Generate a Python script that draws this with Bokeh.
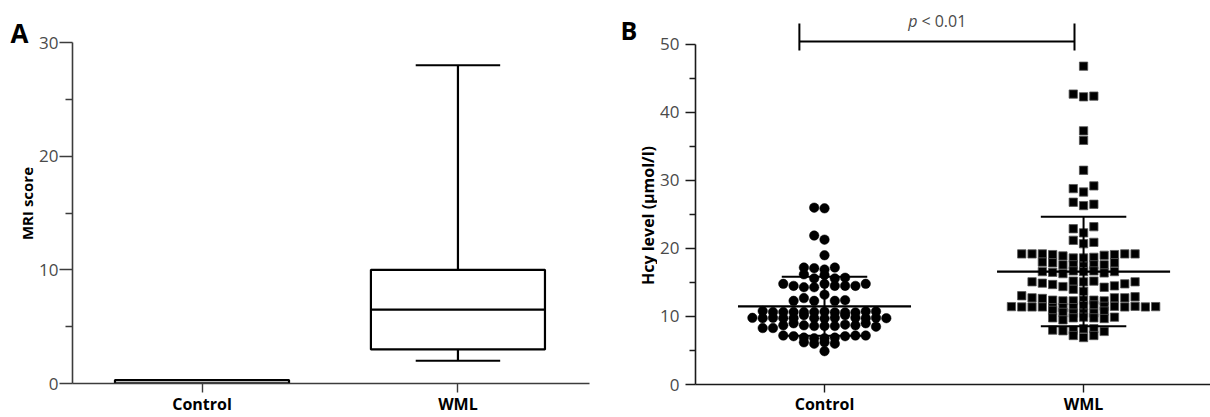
import numpy as np
from bokeh.plotting import figure
from bokeh.models import FixedTicker, Label, Range1d
from bokeh.layouts import row
from bokeh.embed import file_html
from bokeh.resources import INLINE

# ---------------- data ----------------
# Panel A: MRI score box plot (min, q1, median, q3, max)
groups = ["Control", "WML"]
mri_min = [0.0, 2.0]
mri_q1 = [0.0, 3.0]
mri_median = [0.0, 6.5]
mri_q3 = [0.3, 10.0]
mri_max = [0.0, 28.0]
mri_ticks = [0, 10, 20, 30]

# Panel B: Hcy level (umol/l) individual values
control_hcy = [
    25.9, 26.0,
    21.3, 21.9,
    19.0,
    16.9, 17.1, 17.2, 17.2,
    16.1, 15.6, 15.6, 16.2, 15.7,
    14.8, 14.3, 14.5, 14.3, 14.5, 14.5, 14.5, 14.8, 14.8,
    13.2, 12.3, 12.3, 12.7, 12.4, 12.3,
    10.7, 10.65, 10.6, 10.65, 10.6, 10.65, 10.6, 10.65, 10.75, 10.65, 10.75, 10.8,
    9.7, 9.75, 9.8, 10.2, 10.2, 9.75, 9.8, 9.75, 9.75, 9.8, 9.8, 9.75, 9.75, 9.8,
    8.6, 8.6, 8.6, 8.7, 8.8, 9.0, 8.7, 8.7, 9.0, 8.3, 8.5, 8.3,
    6.8, 6.8, 6.9, 6.9, 7.1, 7.1, 7.2, 7.2, 7.2,
    6.2, 6.0, 6.0, 6.2,
    4.9,
]
wml_hcy = [
    46.8,
    42.3, 42.7, 42.4,
    37.3,
    35.9,
    31.5,
    28.3, 28.8, 29.2,
    26.3, 26.8, 26.5,
    22.3, 22.9, 23.2,
    20.7, 21.2, 20.9,
    18.6, 18.6, 18.7, 18.9, 19.0, 19.1, 19.1, 19.2, 19.2, 19.2, 19.2, 19.2,
    17.4, 17.6, 17.6, 17.6, 17.6, 17.9, 17.9, 18.0,
    16.6, 16.7, 16.7, 16.3, 16.4, 16.5, 16.6, 16.6,
    15.1, 15.2, 15.2, 14.4, 14.3, 14.7, 14.5, 14.9, 14.8, 15.1, 15.1,
    13.7, 14.0,
    12.4, 12.3, 12.4, 12.3, 12.3, 12.4, 12.75, 12.65, 12.75, 12.75, 12.9, 13.05,
    11.6, 11.3, 11.7, 11.3, 11.5, 11.3, 11.5, 11.4, 11.4, 11.4, 11.5, 11.4, 11.4, 11.45, 11.45,
    10.5, 10.5, 10.5, 10.6, 10.8, 10.9,
    9.9, 9.8, 9.8, 9.5, 9.7, 9.8, 9.9,
    8.2, 8.0, 8.2, 7.9, 7.8, 8.0,
    6.9, 7.2, 7.2,
]
hcy_mean = [11.5, 16.6]
hcy_sd = [4.35, 8.05]
hcy_ticks = [0, 10, 20, 30, 40, 50]
p_label = "< 0.01"

# ---------------- helpers ----------------
FONT = "Open Sans"
TICK_COLOR = "#4a4a4a"
H = 417


def swarm(values, center, step, bin_h=1.0, edge=0.25):
    seq = [0]
    for k in range(1, 60):
        seq += [-k, k]
    counts = {}
    xs = []
    for v in values:
        b = int(np.floor((v - edge) / bin_h))
        i = counts.get(b, 0)
        counts[b] = i + 1
        xs.append(center + seq[i] * step)
    return xs


def text_strip(width):
    f = figure(width=width, height=H, output_backend="svg", toolbar_location=None,
               title=None, x_axis_type=None, y_axis_type=None,
               x_range=Range1d(0, width), y_range=Range1d(0, H),
               min_border_left=0, min_border_right=0, min_border_top=0, min_border_bottom=0)
    f.frame_align = False
    f.grid.visible = False
    f.outline_line_color = None
    f.background_fill_color = "white"
    f.border_fill_color = "white"
    return f


def style_axes(p, axis_color):
    p.frame_align = False
    p.grid.visible = False
    p.outline_line_color = None
    p.background_fill_color = "white"
    p.border_fill_color = "white"
    for ax in (p.xaxis[0], p.yaxis[0]):
        ax.major_label_text_font = FONT
        ax.major_tick_in = 0
        ax.minor_tick_in = 0
        ax.axis_line_color = axis_color
        ax.axis_line_width = 1.6
        ax.major_tick_line_color = axis_color
        ax.major_tick_line_width = 1.4
        ax.minor_tick_line_color = axis_color
        ax.minor_tick_line_width = 1.4
    p.yaxis.major_label_text_font_size = "17px"
    p.yaxis.major_label_text_color = TICK_COLOR
    p.xaxis.major_label_text_font_size = "16px"
    p.xaxis.major_label_text_font_style = "bold"
    p.xaxis.major_label_text_color = "black"


# ---------------- strip with "A" and y label ----------------
fa = text_strip(36)
fa.add_layout(Label(x=10, y=H - 32, text="A", text_font=FONT, text_font_size="26px",
                    text_font_style="bold", text_color="black", text_align="left",
                    text_baseline="alphabetic"))
fa.add_layout(Label(x=26, y=H - 203, text="MRI score", angle=np.pi / 2, text_font=FONT,
                    text_font_size="15px", text_font_style="bold", text_color="black",
                    text_align="center", text_baseline="middle"))

# ---------------- panel A ----------------
xa = list(range(len(groups)))
pA = figure(width=564, height=H, output_backend="svg", toolbar_location=None, title=None,
            x_range=Range1d(-0.506, 1.514), y_range=Range1d(0, 30),
            min_border_left=34, min_border_right=11, min_border_top=42, min_border_bottom=34)
style_axes(pA, "#3c3c3c")
pA.xaxis.ticker = FixedTicker(ticks=xa)
pA.xaxis.major_label_overrides = {i: g for i, g in enumerate(groups)}
pA.yaxis.ticker = FixedTicker(ticks=mri_ticks, minor_ticks=[5, 15, 25])
pA.yaxis.major_tick_out = 13
pA.yaxis.minor_tick_out = 7
pA.yaxis.major_label_standoff = 1
pA.xaxis.major_tick_out = 9
pA.xaxis.major_label_standoff = 0

box_w = 0.68
cap_w = 0.33
lw = 2.2
pA.segment(x0=xa, x1=xa, y0=mri_q3, y1=mri_max, line_color="black", line_width=lw)
pA.segment(x0=xa, x1=xa, y0=mri_q1, y1=mri_min, line_color="black", line_width=lw)
pA.segment(x0=[x - cap_w / 2 for x in xa], x1=[x + cap_w / 2 for x in xa],
           y0=mri_max, y1=mri_max, line_color="black", line_width=lw)
pA.segment(x0=[x - cap_w / 2 for x in xa], x1=[x + cap_w / 2 for x in xa],
           y0=mri_min, y1=mri_min, line_color="black", line_width=lw)
pA.vbar(x=xa, width=box_w, bottom=mri_q1, top=mri_q3, fill_color="white",
        line_color="black", line_width=lw)
pA.segment(x0=[x - box_w / 2 for x in xa], x1=[x + box_w / 2 for x in xa],
           y0=mri_median, y1=mri_median, line_color="black", line_width=lw)

# ---------------- strip with "B" and y label ----------------
fb = text_strip(57)
fb.add_layout(Label(x=20, y=H - 29, text="B", text_font=FONT, text_font_size="25px",
                    text_font_style="bold", text_color="black", text_align="left",
                    text_baseline="alphabetic"))
fb.add_layout(Label(x=47, y=H - 215, text="Hcy level (\u03bcmol/l)", angle=np.pi / 2,
                    text_font=FONT, text_font_size="16px", text_font_style="bold",
                    text_color="black", text_align="center", text_baseline="middle"))

# ---------------- panel B ----------------
xb = list(range(len(groups)))
pB = figure(width=553, height=H, output_backend="svg", toolbar_location=None, title=None,
            x_range=Range1d(-0.498, 1.490), y_range=Range1d(0, 56.46),
            min_border_left=38, min_border_right=0, min_border_top=0, min_border_bottom=30)
style_axes(pB, "#1a1a1a")
pB.xaxis.ticker = FixedTicker(ticks=xb)
pB.xaxis.major_label_overrides = {i: g for i, g in enumerate(groups)}
pB.yaxis.ticker = FixedTicker(ticks=hcy_ticks, minor_ticks=[5, 15, 25, 35, 45])
pB.yaxis.bounds = (0, 50)
pB.yaxis.major_tick_out = 10
pB.yaxis.minor_tick_out = 6
pB.yaxis.major_label_standoff = 6
pB.xaxis.major_tick_out = 8
pB.xaxis.major_label_standoff = 0

step = 10.3 / 259.0
cx = swarm(control_hcy, xb[0], step)
wx = swarm(wml_hcy, xb[1], step)
pB.scatter(cx, control_hcy, marker="circle", size=9.5, fill_color="black", line_color="black",
           line_width=0.5)
pB.scatter(wx, wml_hcy, marker="square", size=8.3, fill_color="black", line_color="#555555",
           line_width=0.8)

mean_w = 0.668
sd_w = 0.33
lo = [m - s for m, s in zip(hcy_mean, hcy_sd)]
hi = [m + s for m, s in zip(hcy_mean, hcy_sd)]
pB.segment(x0=xb, x1=xb, y0=lo, y1=hi, line_color="black", line_width=2)
pB.segment(x0=[x - mean_w / 2 for x in xb], x1=[x + mean_w / 2 for x in xb],
           y0=hcy_mean, y1=hcy_mean, line_color="black", line_width=2.2)
pB.segment(x0=[x - sd_w / 2 for x in xb] * 2, x1=[x + sd_w / 2 for x in xb] * 2,
           y0=lo + hi, y1=lo + hi, line_color="black", line_width=2)

# significance bracket
br_y, br_lo, br_hi = 50.44, 49.12, 53.07
bx0, bx1 = xb[0] - 0.097, xb[1] - 0.035
pB.segment(x0=[bx0, bx0, bx1], x1=[bx1, bx0, bx1], y0=[br_y, br_lo, br_lo],
           y1=[br_y, br_hi, br_hi], line_color="black", line_width=2)
pB.add_layout(Label(x=0.359, y=53.4, text="p", text_font=FONT, text_font_size="16px",
                    text_font_style="italic", text_color=TICK_COLOR, text_align="right",
                    text_baseline="alphabetic"))
pB.add_layout(Label(x=0.374, y=53.4, text=p_label, text_font=FONT, text_font_size="16px",
                    text_color=TICK_COLOR, text_align="left", text_baseline="alphabetic"))

layout = row(fa, pA, fb, pB)
open("out.html", "w").write(file_html(layout, INLINE))
